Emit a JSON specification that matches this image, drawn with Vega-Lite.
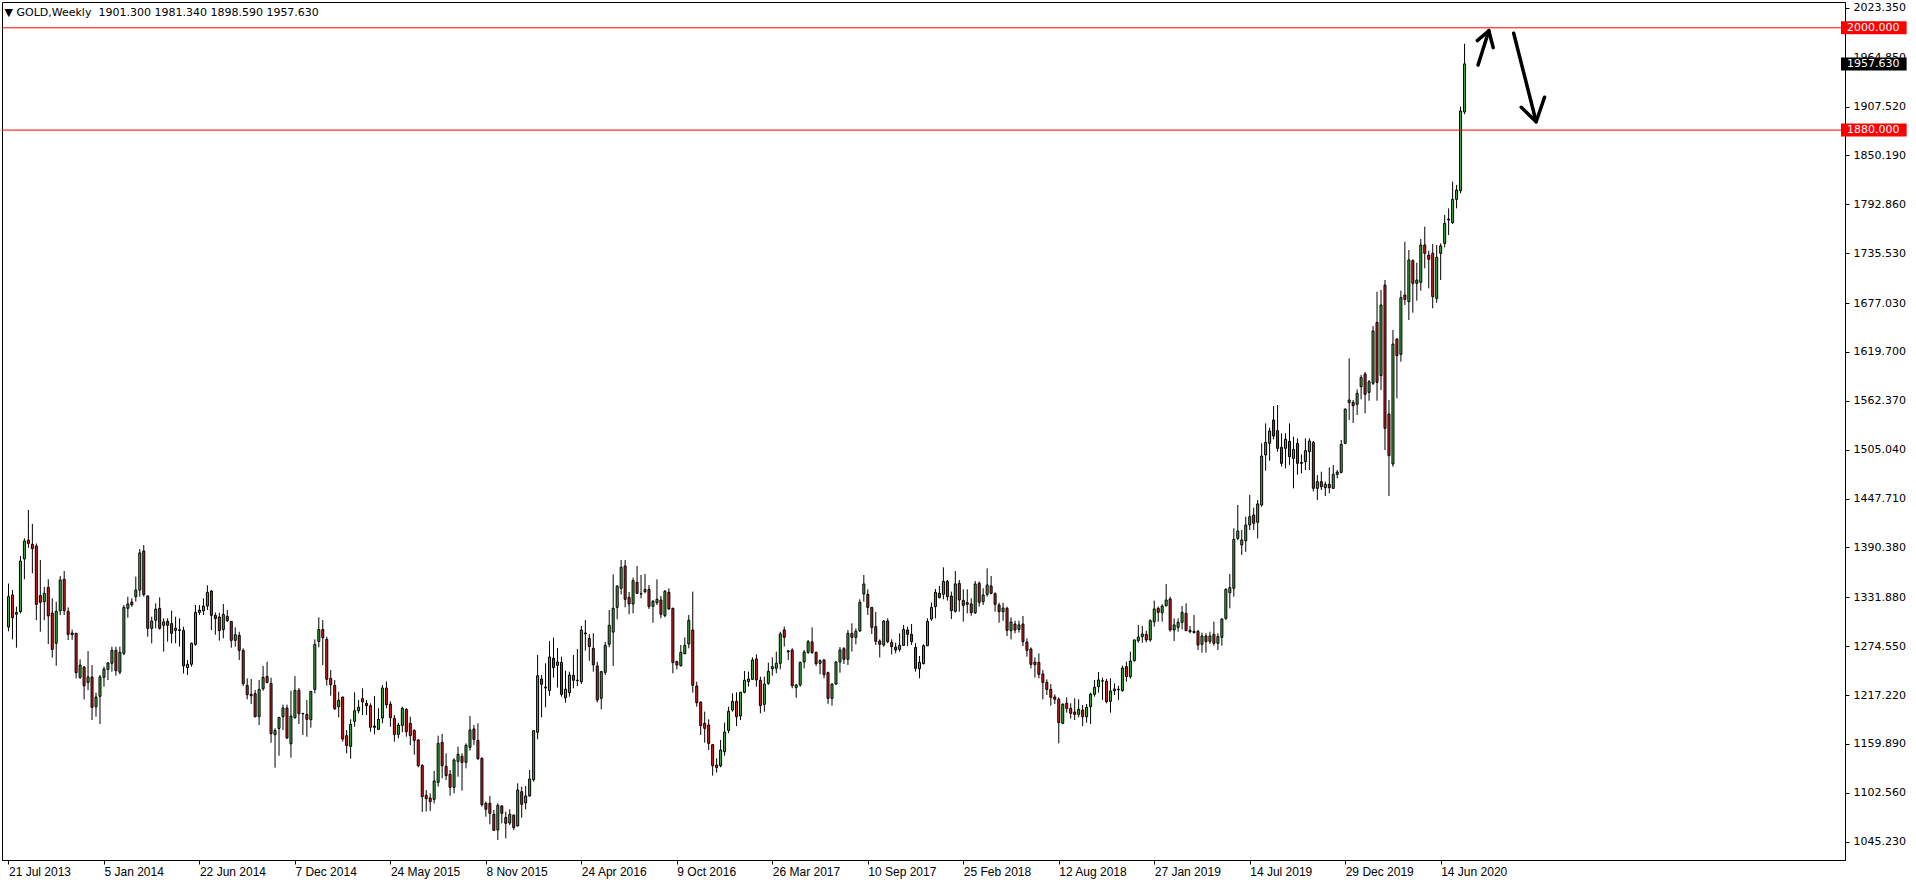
{
"$schema":"https://vega.github.io/schema/vega-lite/v6.json",
"width":1843,"height":858,
"autosize":{"type":"none"},
"padding":{"left":2,"top":2,"right":71,"bottom":24},
"background":"white",
"config":{"view":{"stroke":"black","strokeWidth":1},"font":"DejaVu Sans"},
"title":{"text":"▼ GOLD,Weekly\u00a0\u00a01901.300 1981.340 1898.590 1957.630","anchor":"start","offset":-16,"fontSize":11,"fontWeight":"normal","font":"DejaVu Sans","color":"black","dx":3},
"datasets":{
"candles":[
{"d":"2013-07-21","o":1297,"h":1348,"l":1292,"c":1332.6},
{"d":"2013-07-28","o":1334.6,"h":1340.4,"l":1282.5,"c":1307.9},
{"d":"2013-08-04","o":1312,"h":1320.9,"l":1272.7,"c":1314},
{"d":"2013-08-11","o":1315,"h":1380.3,"l":1313,"c":1374.4},
{"d":"2013-08-18","o":1376.8,"h":1401,"l":1353,"c":1397.9},
{"d":"2013-08-25","o":1399,"h":1434.3,"l":1390,"c":1395},
{"d":"2013-09-01","o":1394,"h":1418,"l":1360,"c":1389},
{"d":"2013-09-08","o":1392,"h":1395,"l":1305,"c":1323.6},
{"d":"2013-09-15","o":1334,"h":1375.6,"l":1291.5,"c":1326},
{"d":"2013-09-22","o":1326.7,"h":1344,"l":1305,"c":1336.5},
{"d":"2013-09-29","o":1343.5,"h":1353,"l":1277,"c":1310},
{"d":"2013-10-06","o":1313.4,"h":1330.6,"l":1261,"c":1270.8},
{"d":"2013-10-13","o":1277.9,"h":1326.7,"l":1251.6,"c":1315.4},
{"d":"2013-10-20","o":1316,"h":1356.8,"l":1311,"c":1352.2},
{"d":"2013-10-27","o":1353,"h":1362.7,"l":1311,"c":1316.2},
{"d":"2013-11-03","o":1315.4,"h":1320,"l":1281.7,"c":1288.4},
{"d":"2013-11-10","o":1290,"h":1294,"l":1282,"c":1288},
{"d":"2013-11-17","o":1289.6,"h":1290,"l":1236.8,"c":1243.4},
{"d":"2013-11-24","o":1238,"h":1259,"l":1236,"c":1252.4},
{"d":"2013-12-01","o":1250,"h":1251,"l":1212,"c":1228},
{"d":"2013-12-08","o":1232,"h":1268.8,"l":1223,"c":1238.4},
{"d":"2013-12-15","o":1238.4,"h":1252.4,"l":1187.9,"c":1202.8},
{"d":"2013-12-22","o":1203.5,"h":1220,"l":1191.8,"c":1214.9},
{"d":"2013-12-29","o":1215.7,"h":1240.7,"l":1183.2,"c":1238.4},
{"d":"2014-01-05","o":1238,"h":1250.5,"l":1227,"c":1247.7},
{"d":"2014-01-12","o":1247.3,"h":1256,"l":1234.8,"c":1254.8},
{"d":"2014-01-19","o":1254.4,"h":1273.9,"l":1244.6,"c":1269.6},
{"d":"2014-01-26","o":1269.6,"h":1273.9,"l":1239.9,"c":1245.8},
{"d":"2014-02-02","o":1244,"h":1273.9,"l":1241.5,"c":1267.3},
{"d":"2014-02-09","o":1266,"h":1322.8,"l":1264,"c":1320},
{"d":"2014-02-16","o":1318.9,"h":1332.6,"l":1307.9,"c":1324},
{"d":"2014-02-23","o":1326.3,"h":1330.6,"l":1320.9,"c":1323},
{"d":"2014-03-02","o":1332.6,"h":1356.1,"l":1326.7,"c":1340.4},
{"d":"2014-03-09","o":1340.4,"h":1388.5,"l":1332.6,"c":1384},
{"d":"2014-03-16","o":1386.2,"h":1393.2,"l":1332.6,"c":1335},
{"d":"2014-03-23","o":1333.4,"h":1334,"l":1285.7,"c":1295.4},
{"d":"2014-03-30","o":1295.4,"h":1309.1,"l":1277.8,"c":1304},
{"d":"2014-04-06","o":1305,"h":1324.8,"l":1295.4,"c":1318},
{"d":"2014-04-13","o":1318.9,"h":1331.8,"l":1294,"c":1295.4},
{"d":"2014-04-20","o":1299,"h":1307.2,"l":1268.1,"c":1303},
{"d":"2014-04-27","o":1303.6,"h":1307.2,"l":1279.8,"c":1299},
{"d":"2014-05-04","o":1301,"h":1316.2,"l":1277.9,"c":1289.6},
{"d":"2014-05-11","o":1293,"h":1309.1,"l":1277.9,"c":1295.5},
{"d":"2014-05-18","o":1293,"h":1307.2,"l":1274,"c":1293.8},
{"d":"2014-05-25","o":1293,"h":1297.4,"l":1242.6,"c":1251.3},
{"d":"2014-06-01","o":1249.4,"h":1258.3,"l":1240.7,"c":1253.3},
{"d":"2014-06-08","o":1253.3,"h":1278.6,"l":1250.5,"c":1277.9},
{"d":"2014-06-15","o":1276.7,"h":1322.8,"l":1275,"c":1314.2},
{"d":"2014-06-22","o":1314.2,"h":1322.8,"l":1311.1,"c":1316.9},
{"d":"2014-06-29","o":1316,"h":1330.6,"l":1311.1,"c":1321.6},
{"d":"2014-07-06","o":1321.6,"h":1345.9,"l":1316.9,"c":1337.7},
{"d":"2014-07-13","o":1339.2,"h":1340.4,"l":1293.5,"c":1310.7},
{"d":"2014-07-20","o":1310.7,"h":1314,"l":1288,"c":1306.8},
{"d":"2014-07-27","o":1308.7,"h":1313.8,"l":1281,"c":1292.7},
{"d":"2014-08-03","o":1293.9,"h":1324,"l":1283.7,"c":1311.8},
{"d":"2014-08-10","o":1309.5,"h":1316.9,"l":1303,"c":1304.4},
{"d":"2014-08-17","o":1303.6,"h":1304,"l":1272.7,"c":1281.3},
{"d":"2014-08-24","o":1281.3,"h":1296.6,"l":1273.9,"c":1288},
{"d":"2014-08-31","o":1287.2,"h":1291.5,"l":1258.3,"c":1269.6},
{"d":"2014-09-07","o":1269.6,"h":1272,"l":1227.8,"c":1230.5},
{"d":"2014-09-14","o":1228.5,"h":1236.7,"l":1212.1,"c":1217.6},
{"d":"2014-09-21","o":1218,"h":1236,"l":1206.6,"c":1216.4},
{"d":"2014-09-28","o":1218.8,"h":1223.1,"l":1191,"c":1191.8},
{"d":"2014-10-05","o":1191.8,"h":1234.8,"l":1182,"c":1223.8},
{"d":"2014-10-12","o":1224.6,"h":1251.3,"l":1222.3,"c":1237.9},
{"d":"2014-10-19","o":1239.1,"h":1256.3,"l":1230.9,"c":1232},
{"d":"2014-10-26","o":1230.9,"h":1237.6,"l":1161.3,"c":1171.8},
{"d":"2014-11-02","o":1170.7,"h":1178.1,"l":1132,"c":1175.7},
{"d":"2014-11-09","o":1178,"h":1191.5,"l":1146,"c":1191},
{"d":"2014-11-16","o":1191.8,"h":1205.9,"l":1176.1,"c":1202},
{"d":"2014-11-23","o":1202,"h":1205.9,"l":1165.6,"c":1166.8},
{"d":"2014-11-30","o":1160,"h":1222.3,"l":1143.7,"c":1192.6},
{"d":"2014-12-07","o":1190.6,"h":1239.5,"l":1189.4,"c":1222.7},
{"d":"2014-12-14","o":1222.7,"h":1225.4,"l":1183.2,"c":1195.3},
{"d":"2014-12-21","o":1195.7,"h":1196,"l":1170.3,"c":1195.2},
{"d":"2014-12-28","o":1194.5,"h":1211.3,"l":1168.3,"c":1188.7},
{"d":"2015-01-04","o":1188.3,"h":1221.9,"l":1178.9,"c":1221.5},
{"d":"2015-01-11","o":1223.8,"h":1282.5,"l":1219.2,"c":1276.6},
{"d":"2015-01-18","o":1280,"h":1308.3,"l":1273.2,"c":1294},
{"d":"2015-01-25","o":1294,"h":1305.2,"l":1252.4,"c":1284.5},
{"d":"2015-02-01","o":1282.5,"h":1285.7,"l":1228.2,"c":1235.6},
{"d":"2015-02-08","o":1236.7,"h":1246.5,"l":1216.4,"c":1229.3},
{"d":"2015-02-15","o":1228.5,"h":1234.8,"l":1199.6,"c":1201.2},
{"d":"2015-02-22","o":1203.5,"h":1221.1,"l":1191,"c":1211},
{"d":"2015-03-01","o":1214.9,"h":1215.3,"l":1162.5,"c":1165.6},
{"d":"2015-03-08","o":1169.5,"h":1176.1,"l":1148.8,"c":1158},
{"d":"2015-03-15","o":1157,"h":1188.7,"l":1142.5,"c":1182.8},
{"d":"2015-03-22","o":1186.3,"h":1220.4,"l":1180,"c":1198.8},
{"d":"2015-03-29","o":1198.8,"h":1211.3,"l":1195.7,"c":1203},
{"d":"2015-04-05","o":1213,"h":1225,"l":1193.7,"c":1209},
{"d":"2015-04-12","o":1207.4,"h":1211.3,"l":1193.7,"c":1204.7},
{"d":"2015-04-19","o":1204.7,"h":1207.4,"l":1174.2,"c":1179.3},
{"d":"2015-04-26","o":1180.8,"h":1216,"l":1171,"c":1179.3},
{"d":"2015-05-03","o":1176.9,"h":1201.6,"l":1176.1,"c":1188.7},
{"d":"2015-05-10","o":1190.2,"h":1229,"l":1184,"c":1225.4},
{"d":"2015-05-17","o":1225.4,"h":1233.2,"l":1201.6,"c":1205.9},
{"d":"2015-05-24","o":1206.6,"h":1209.8,"l":1180,"c":1190.6},
{"d":"2015-05-31","o":1189.8,"h":1193.7,"l":1162.5,"c":1171},
{"d":"2015-06-07","o":1171,"h":1184.7,"l":1166.4,"c":1182},
{"d":"2015-06-14","o":1181.6,"h":1203.5,"l":1173.4,"c":1201.6},
{"d":"2015-06-21","o":1200.4,"h":1201.6,"l":1168.3,"c":1174.2},
{"d":"2015-06-28","o":1184,"h":1191.8,"l":1158.5,"c":1169.5},
{"d":"2015-07-05","o":1175.7,"h":1177,"l":1147.2,"c":1164},
{"d":"2015-07-12","o":1164.4,"h":1165.6,"l":1132.4,"c":1134.3},
{"d":"2015-07-19","o":1134.7,"h":1136,"l":1080,"c":1098},
{"d":"2015-07-26","o":1099.5,"h":1105.8,"l":1080.4,"c":1095.6},
{"d":"2015-08-02","o":1096.4,"h":1101.9,"l":1081.1,"c":1092.1},
{"d":"2015-08-09","o":1094.8,"h":1128.1,"l":1090,"c":1116.4},
{"d":"2015-08-16","o":1114.8,"h":1169.5,"l":1109.7,"c":1160.5},
{"d":"2015-08-23","o":1161.7,"h":1171.5,"l":1119.5,"c":1134.3},
{"d":"2015-08-30","o":1133.6,"h":1148.8,"l":1117.5,"c":1122.6},
{"d":"2015-09-06","o":1124.2,"h":1129.3,"l":1099.1,"c":1108.9},
{"d":"2015-09-13","o":1108.9,"h":1143,"l":1101.9,"c":1141},
{"d":"2015-09-20","o":1139.4,"h":1156.6,"l":1121.4,"c":1147.6},
{"d":"2015-09-27","o":1145.3,"h":1148.8,"l":1105,"c":1138.2},
{"d":"2015-10-04","o":1138.2,"h":1160.5,"l":1131.2,"c":1158.2},
{"d":"2015-10-11","o":1155.8,"h":1192.6,"l":1152,"c":1176.2},
{"d":"2015-10-18","o":1177.4,"h":1182,"l":1158.6,"c":1165.2},
{"d":"2015-10-25","o":1164,"h":1184,"l":1141,"c":1142.6},
{"d":"2015-11-01","o":1143,"h":1144.1,"l":1086.2,"c":1088.6},
{"d":"2015-11-08","o":1090.2,"h":1092.1,"l":1074.5,"c":1083.1},
{"d":"2015-11-15","o":1090.2,"h":1098.8,"l":1065.5,"c":1078.4},
{"d":"2015-11-22","o":1077.2,"h":1082.3,"l":1058,"c":1058.5},
{"d":"2015-11-29","o":1058.9,"h":1090.2,"l":1047.1,"c":1087.8},
{"d":"2015-12-06","o":1087,"h":1088.2,"l":1066.7,"c":1078.4},
{"d":"2015-12-13","o":1073.7,"h":1080.4,"l":1049,"c":1066.7},
{"d":"2015-12-20","o":1067,"h":1083.1,"l":1064.7,"c":1077.2},
{"d":"2015-12-27","o":1076.4,"h":1076.8,"l":1058.9,"c":1061.6},
{"d":"2016-01-03","o":1063.6,"h":1113.6,"l":1062.8,"c":1105.8},
{"d":"2016-01-10","o":1103.8,"h":1109.7,"l":1073.3,"c":1089},
{"d":"2016-01-17","o":1090.6,"h":1110.5,"l":1083,"c":1098.8},
{"d":"2016-01-24","o":1098.8,"h":1129.3,"l":1098,"c":1118.7},
{"d":"2016-01-31","o":1117.9,"h":1176.2,"l":1115.6,"c":1175.4},
{"d":"2016-02-07","o":1173.5,"h":1264.2,"l":1165.2,"c":1239.9},
{"d":"2016-02-14","o":1236,"h":1240.7,"l":1191,"c":1229.8},
{"d":"2016-02-21","o":1225.5,"h":1254.4,"l":1202.8,"c":1226.5},
{"d":"2016-02-28","o":1222.4,"h":1280.6,"l":1216.4,"c":1261.8},
{"d":"2016-03-06","o":1260.3,"h":1284.5,"l":1237.6,"c":1249.3},
{"d":"2016-03-13","o":1252,"h":1272.4,"l":1225.9,"c":1256},
{"d":"2016-03-20","o":1255.6,"h":1262.2,"l":1215.3,"c":1218},
{"d":"2016-03-27","o":1214,"h":1245.8,"l":1208.2,"c":1224},
{"d":"2016-04-03","o":1220,"h":1244.6,"l":1215.3,"c":1240.7},
{"d":"2016-04-10","o":1240.3,"h":1264.2,"l":1225.1,"c":1234.5},
{"d":"2016-04-17","o":1234.5,"h":1271.2,"l":1227.8,"c":1234},
{"d":"2016-04-24","o":1232.9,"h":1298.2,"l":1230.1,"c":1293.5},
{"d":"2016-05-01","o":1289,"h":1305.2,"l":1269.3,"c":1290},
{"d":"2016-05-08","o":1283.7,"h":1288.8,"l":1257.5,"c":1274},
{"d":"2016-05-15","o":1272,"h":1289.6,"l":1244.6,"c":1252.5},
{"d":"2016-05-22","o":1251.3,"h":1256.3,"l":1208.6,"c":1211.4},
{"d":"2016-05-29","o":1213.3,"h":1245.5,"l":1200.4,"c":1244.6},
{"d":"2016-06-05","o":1243.8,"h":1279.4,"l":1240.7,"c":1275.5},
{"d":"2016-06-12","o":1276.7,"h":1317,"l":1273.2,"c":1299},
{"d":"2016-06-19","o":1291,"h":1358.8,"l":1251.3,"c":1318.9},
{"d":"2016-06-26","o":1320,"h":1346.3,"l":1306,"c":1344.8},
{"d":"2016-07-03","o":1342.4,"h":1375.6,"l":1335.3,"c":1367},
{"d":"2016-07-10","o":1368.6,"h":1375.6,"l":1320.1,"c":1329.5},
{"d":"2016-07-17","o":1331.8,"h":1338.1,"l":1311.9,"c":1324},
{"d":"2016-07-24","o":1324,"h":1354.9,"l":1313.1,"c":1351.4},
{"d":"2016-07-31","o":1349.4,"h":1368.6,"l":1335.7,"c":1336.5},
{"d":"2016-08-07","o":1336.2,"h":1358,"l":1330.7,"c":1335.8},
{"d":"2016-08-14","o":1338.5,"h":1359.2,"l":1336.5,"c":1341},
{"d":"2016-08-21","o":1341.2,"h":1346.3,"l":1318.2,"c":1320.9},
{"d":"2016-08-28","o":1321.3,"h":1328.7,"l":1302.1,"c":1327.2},
{"d":"2016-09-04","o":1325.5,"h":1352.9,"l":1322.8,"c":1329.5},
{"d":"2016-09-11","o":1328.7,"h":1333.4,"l":1307.2,"c":1311.9},
{"d":"2016-09-18","o":1310.3,"h":1340.4,"l":1308.4,"c":1338.9},
{"d":"2016-09-25","o":1337.7,"h":1342.4,"l":1317,"c":1318.2},
{"d":"2016-10-02","o":1318.9,"h":1319.7,"l":1242.7,"c":1255.2},
{"d":"2016-10-09","o":1256.4,"h":1257.5,"l":1247.4,"c":1252.5},
{"d":"2016-10-16","o":1251.7,"h":1275.9,"l":1250.5,"c":1267.3},
{"d":"2016-10-23","o":1265.6,"h":1284.9,"l":1265.4,"c":1275.5},
{"d":"2016-10-30","o":1277.1,"h":1311.1,"l":1272,"c":1304.8},
{"d":"2016-11-06","o":1293.5,"h":1338.5,"l":1220,"c":1228.6},
{"d":"2016-11-13","o":1227.8,"h":1232.9,"l":1203.5,"c":1208.2},
{"d":"2016-11-20","o":1209,"h":1209.5,"l":1170.3,"c":1181.3},
{"d":"2016-11-27","o":1184,"h":1197.7,"l":1161.3,"c":1178.1},
{"d":"2016-12-04","o":1182,"h":1188.7,"l":1152.7,"c":1160.5},
{"d":"2016-12-11","o":1159,"h":1159.8,"l":1122.6,"c":1134.3},
{"d":"2016-12-18","o":1135,"h":1142.9,"l":1126.1,"c":1132},
{"d":"2016-12-25","o":1134.3,"h":1164.4,"l":1132.4,"c":1152.7},
{"d":"2017-01-01","o":1150.8,"h":1184.8,"l":1146,"c":1173.8},
{"d":"2017-01-08","o":1175.7,"h":1203.5,"l":1172.3,"c":1198.1},
{"d":"2017-01-15","o":1199.6,"h":1219.2,"l":1197.7,"c":1209.8},
{"d":"2017-01-22","o":1209.8,"h":1220.4,"l":1180.8,"c":1191.8},
{"d":"2017-01-29","o":1192.6,"h":1220.8,"l":1187.9,"c":1220.4},
{"d":"2017-02-05","o":1220.4,"h":1245.4,"l":1219.2,"c":1234.5},
{"d":"2017-02-12","o":1232.9,"h":1244.6,"l":1227,"c":1236},
{"d":"2017-02-19","o":1235.6,"h":1261.4,"l":1234.9,"c":1258.3},
{"d":"2017-02-26","o":1259.5,"h":1265,"l":1227,"c":1234.9},
{"d":"2017-03-05","o":1234.5,"h":1238.8,"l":1195.7,"c":1204.7},
{"d":"2017-03-12","o":1206.2,"h":1238.8,"l":1197.7,"c":1230.1},
{"d":"2017-03-19","o":1230.9,"h":1255.2,"l":1229,"c":1245},
{"d":"2017-03-26","o":1248,"h":1261.4,"l":1239.9,"c":1250.5},
{"d":"2017-04-02","o":1248.6,"h":1268.1,"l":1242.7,"c":1254.4},
{"d":"2017-04-09","o":1254.4,"h":1291.5,"l":1247.4,"c":1288.8},
{"d":"2017-04-16","o":1293.5,"h":1297.4,"l":1274,"c":1284.9},
{"d":"2017-04-23","o":1269,"h":1270,"l":1258.3,"c":1268},
{"d":"2017-04-30","o":1270,"h":1272,"l":1225.1,"c":1228.2},
{"d":"2017-05-07","o":1225.9,"h":1230.1,"l":1214.1,"c":1229},
{"d":"2017-05-14","o":1229,"h":1256.3,"l":1227,"c":1255.6},
{"d":"2017-05-21","o":1256,"h":1270,"l":1248.5,"c":1267.7},
{"d":"2017-05-28","o":1267.3,"h":1281.8,"l":1265.4,"c":1279.8},
{"d":"2017-06-04","o":1279.5,"h":1296.6,"l":1265.4,"c":1267},
{"d":"2017-06-11","o":1267.3,"h":1268.1,"l":1251.3,"c":1254},
{"d":"2017-06-18","o":1254.4,"h":1259.1,"l":1241.5,"c":1257.5},
{"d":"2017-06-25","o":1258.3,"h":1259.5,"l":1236.8,"c":1241.1},
{"d":"2017-07-02","o":1243.5,"h":1244.6,"l":1206.7,"c":1213.3},
{"d":"2017-07-09","o":1213.3,"h":1230.9,"l":1204.7,"c":1230.1},
{"d":"2017-07-16","o":1230.1,"h":1257.1,"l":1229,"c":1256},
{"d":"2017-07-23","o":1256,"h":1273.5,"l":1243.4,"c":1270},
{"d":"2017-07-30","o":1271.6,"h":1273.5,"l":1253.6,"c":1259.1},
{"d":"2017-08-06","o":1259.1,"h":1293.5,"l":1252.4,"c":1289.6},
{"d":"2017-08-13","o":1289.6,"h":1301.3,"l":1268.1,"c":1284.9},
{"d":"2017-08-20","o":1284.9,"h":1295.4,"l":1276.7,"c":1292},
{"d":"2017-08-27","o":1292.3,"h":1329.5,"l":1291.5,"c":1326},
{"d":"2017-09-03","o":1335.7,"h":1358,"l":1326.7,"c":1347.5},
{"d":"2017-09-10","o":1335.3,"h":1341.2,"l":1311.1,"c":1320},
{"d":"2017-09-17","o":1320,"h":1320.5,"l":1288.8,"c":1296.6},
{"d":"2017-09-24","o":1297.4,"h":1314.6,"l":1275.9,"c":1280.2},
{"d":"2017-10-01","o":1280.6,"h":1282.5,"l":1261.4,"c":1276.7},
{"d":"2017-10-08","o":1275.9,"h":1305.2,"l":1273.9,"c":1304},
{"d":"2017-10-15","o":1304,"h":1307.2,"l":1277.9,"c":1279.8},
{"d":"2017-10-22","o":1279,"h":1282.5,"l":1264.9,"c":1274},
{"d":"2017-10-29","o":1273.5,"h":1278.6,"l":1266.1,"c":1270},
{"d":"2017-11-05","o":1270.8,"h":1289.6,"l":1268.1,"c":1275.5},
{"d":"2017-11-12","o":1275.5,"h":1299.4,"l":1274.7,"c":1294.2},
{"d":"2017-11-19","o":1293.5,"h":1297.4,"l":1274.7,"c":1288.4},
{"d":"2017-11-26","o":1288.4,"h":1300.5,"l":1275.9,"c":1279.8},
{"d":"2017-12-03","o":1273.1,"h":1277.9,"l":1244.6,"c":1248.5},
{"d":"2017-12-10","o":1248.1,"h":1263,"l":1236.8,"c":1255.5},
{"d":"2017-12-17","o":1254,"h":1276.7,"l":1253.2,"c":1275.1},
{"d":"2017-12-24","o":1275.1,"h":1307.2,"l":1274.5,"c":1303.6},
{"d":"2017-12-31","o":1306.4,"h":1325.6,"l":1304.4,"c":1320.1},
{"d":"2018-01-07","o":1320.9,"h":1341.6,"l":1307.2,"c":1337.7},
{"d":"2018-01-14","o":1336.5,"h":1345.1,"l":1330.6,"c":1331.5},
{"d":"2018-01-21","o":1335.3,"h":1367,"l":1329.5,"c":1350.6},
{"d":"2018-01-28","o":1350.6,"h":1352.2,"l":1327.9,"c":1332.6},
{"d":"2018-02-04","o":1333.4,"h":1338.5,"l":1306.4,"c":1316.2},
{"d":"2018-02-11","o":1315.4,"h":1362.7,"l":1313.8,"c":1347.5},
{"d":"2018-02-18","o":1348.2,"h":1352.2,"l":1315,"c":1328.7},
{"d":"2018-02-25","o":1328.3,"h":1341.2,"l":1303.3,"c":1322.4},
{"d":"2018-03-04","o":1325.5,"h":1341.2,"l":1313,"c":1323.6},
{"d":"2018-03-11","o":1324,"h":1330.6,"l":1310.3,"c":1313.8},
{"d":"2018-03-18","o":1313.8,"h":1351,"l":1312.2,"c":1347.5},
{"d":"2018-03-25","o":1348.2,"h":1350.6,"l":1320.9,"c":1326},
{"d":"2018-04-01","o":1326.7,"h":1342.4,"l":1322.8,"c":1334.6},
{"d":"2018-04-08","o":1335.3,"h":1365.8,"l":1332.6,"c":1346.3},
{"d":"2018-04-15","o":1345.1,"h":1356.8,"l":1335.3,"c":1336.5},
{"d":"2018-04-22","o":1336.1,"h":1337.7,"l":1315,"c":1323.6},
{"d":"2018-04-29","o":1322.8,"h":1325.5,"l":1302.1,"c":1315},
{"d":"2018-05-06","o":1315,"h":1325.5,"l":1304.4,"c":1319.3},
{"d":"2018-05-13","o":1318.9,"h":1320.9,"l":1286.4,"c":1293.1},
{"d":"2018-05-20","o":1292.7,"h":1308.3,"l":1282.5,"c":1302.9},
{"d":"2018-05-27","o":1300.5,"h":1304.4,"l":1289.6,"c":1293.5},
{"d":"2018-06-03","o":1294.2,"h":1304.4,"l":1290.4,"c":1299.4},
{"d":"2018-06-10","o":1300.5,"h":1309.9,"l":1274.7,"c":1279.8},
{"d":"2018-06-17","o":1279.4,"h":1283.7,"l":1262.2,"c":1269.6},
{"d":"2018-06-24","o":1271.2,"h":1273.1,"l":1248.5,"c":1253.2},
{"d":"2018-07-01","o":1255.9,"h":1261.4,"l":1237.6,"c":1252.8},
{"d":"2018-07-08","o":1255.5,"h":1266.1,"l":1236.8,"c":1241.5},
{"d":"2018-07-15","o":1241.9,"h":1246.5,"l":1212.1,"c":1232},
{"d":"2018-07-22","o":1232,"h":1235.6,"l":1217.2,"c":1223.8},
{"d":"2018-07-29","o":1223.8,"h":1230.1,"l":1204.7,"c":1214.5},
{"d":"2018-08-05","o":1214.9,"h":1217.9,"l":1206.7,"c":1212.2},
{"d":"2018-08-12","o":1212.2,"h":1214.5,"l":1160.5,"c":1184.8},
{"d":"2018-08-19","o":1184,"h":1207.5,"l":1183,"c":1206.3},
{"d":"2018-08-26","o":1207.5,"h":1214.5,"l":1196.5,"c":1201.6},
{"d":"2018-09-02","o":1201.6,"h":1207.5,"l":1189.5,"c":1195.7},
{"d":"2018-09-09","o":1197.3,"h":1213.3,"l":1187.9,"c":1194.5},
{"d":"2018-09-16","o":1194.5,"h":1212.2,"l":1191,"c":1200.4},
{"d":"2018-09-23","o":1199.6,"h":1205.5,"l":1180.8,"c":1191.8},
{"d":"2018-09-30","o":1191.8,"h":1206.7,"l":1184.8,"c":1202.8},
{"d":"2018-10-07","o":1203.5,"h":1219.9,"l":1183.2,"c":1218.4},
{"d":"2018-10-14","o":1218,"h":1234.9,"l":1215.3,"c":1226.3},
{"d":"2018-10-21","o":1227,"h":1244.2,"l":1220,"c":1234.9},
{"d":"2018-10-28","o":1234,"h":1237.6,"l":1211.4,"c":1233.3},
{"d":"2018-11-04","o":1233.3,"h":1236,"l":1207.5,"c":1209.4},
{"d":"2018-11-11","o":1209.8,"h":1236.8,"l":1196.5,"c":1221.9},
{"d":"2018-11-18","o":1222.3,"h":1230.9,"l":1217.2,"c":1224.3},
{"d":"2018-11-25","o":1224,"h":1228.2,"l":1211.4,"c":1223.5},
{"d":"2018-12-02","o":1222.3,"h":1251.7,"l":1221.2,"c":1248.9},
{"d":"2018-12-09","o":1250.5,"h":1256.3,"l":1232.9,"c":1238.8},
{"d":"2018-12-16","o":1238.8,"h":1268.1,"l":1236.4,"c":1257.1},
{"d":"2018-12-23","o":1257.5,"h":1282.5,"l":1256.3,"c":1281.8},
{"d":"2018-12-30","o":1281,"h":1299.4,"l":1278.6,"c":1285.3},
{"d":"2019-01-06","o":1285.7,"h":1298.2,"l":1278.6,"c":1288.8},
{"d":"2019-01-13","o":1288.4,"h":1292.7,"l":1279,"c":1281.8},
{"d":"2019-01-20","o":1281.8,"h":1306,"l":1279.8,"c":1304.4},
{"d":"2019-01-27","o":1303.2,"h":1327.9,"l":1297.4,"c":1318.2},
{"d":"2019-02-03","o":1318.9,"h":1320.9,"l":1303.3,"c":1314.2},
{"d":"2019-02-10","o":1313.8,"h":1323.6,"l":1303.3,"c":1321.6},
{"d":"2019-02-17","o":1322,"h":1347.5,"l":1320.9,"c":1328.7},
{"d":"2019-02-24","o":1329.9,"h":1332.6,"l":1291.5,"c":1293.5},
{"d":"2019-03-03","o":1293.5,"h":1307.2,"l":1280.6,"c":1299.4},
{"d":"2019-03-10","o":1296.6,"h":1307.2,"l":1291.5,"c":1302.5},
{"d":"2019-03-17","o":1302.5,"h":1321.6,"l":1294.3,"c":1314.2},
{"d":"2019-03-24","o":1313,"h":1324.8,"l":1292.3,"c":1292.7},
{"d":"2019-03-31","o":1293,"h":1298.2,"l":1289.6,"c":1291.5},
{"d":"2019-04-07","o":1291.9,"h":1311.1,"l":1289.5,"c":1290.4},
{"d":"2019-04-14","o":1291.9,"h":1293.5,"l":1270,"c":1275.9},
{"d":"2019-04-21","o":1276.7,"h":1290.4,"l":1266.9,"c":1286.5},
{"d":"2019-04-28","o":1286.5,"h":1289.6,"l":1266.9,"c":1279.8},
{"d":"2019-05-05","o":1280.2,"h":1291.5,"l":1277.1,"c":1286.5},
{"d":"2019-05-12","o":1288.4,"h":1303.3,"l":1275.1,"c":1277.9},
{"d":"2019-05-19","o":1277.9,"h":1289.6,"l":1270,"c":1285.7},
{"d":"2019-05-26","o":1284.9,"h":1307.2,"l":1275.1,"c":1306.4},
{"d":"2019-06-02","o":1307.2,"h":1342.4,"l":1305.2,"c":1341.2},
{"d":"2019-06-09","o":1337.3,"h":1359.2,"l":1318.9,"c":1343.2},
{"d":"2019-06-16","o":1342.4,"h":1412.8,"l":1332.6,"c":1399.9},
{"d":"2019-06-23","o":1401,"h":1440.2,"l":1399,"c":1409.6},
{"d":"2019-06-30","o":1393.3,"h":1410.8,"l":1381.5,"c":1399.1},
{"d":"2019-07-07","o":1398.3,"h":1426.5,"l":1385.2,"c":1416.7},
{"d":"2019-07-14","o":1416.7,"h":1452,"l":1410.8,"c":1426.5},
{"d":"2019-07-21","o":1428.4,"h":1437,"l":1410.8,"c":1418.7},
{"d":"2019-07-28","o":1419.8,"h":1446,"l":1400.9,"c":1441.4},
{"d":"2019-08-04","o":1440.1,"h":1512.5,"l":1438.2,"c":1497.6},
{"d":"2019-08-11","o":1498.8,"h":1535.9,"l":1480.4,"c":1513.6},
{"d":"2019-08-18","o":1512.5,"h":1530.9,"l":1492.1,"c":1527},
{"d":"2019-08-25","o":1539.9,"h":1556.3,"l":1517.2,"c":1521.1},
{"d":"2019-09-01","o":1527.3,"h":1557.4,"l":1502.6,"c":1506.6},
{"d":"2019-09-08","o":1507.8,"h":1524.2,"l":1485.3,"c":1489},
{"d":"2019-09-15","o":1506.6,"h":1524.2,"l":1483.1,"c":1517.2},
{"d":"2019-09-22","o":1514.8,"h":1535.9,"l":1487.1,"c":1496.8},
{"d":"2019-09-29","o":1494.9,"h":1520.3,"l":1459.7,"c":1505.4},
{"d":"2019-10-06","o":1512.5,"h":1518.3,"l":1475.7,"c":1489},
{"d":"2019-10-13","o":1489,"h":1499.5,"l":1477.2,"c":1490},
{"d":"2019-10-20","o":1491,"h":1518.3,"l":1481.2,"c":1503.9},
{"d":"2019-10-27","o":1502.7,"h":1518.3,"l":1481.2,"c":1515.2},
{"d":"2019-11-03","o":1513.6,"h":1515.2,"l":1456.1,"c":1459.7},
{"d":"2019-11-10","o":1459.7,"h":1475.3,"l":1446,"c":1467.5},
{"d":"2019-11-17","o":1467.5,"h":1479.2,"l":1457.7,"c":1461.6},
{"d":"2019-11-24","o":1460.4,"h":1467.6,"l":1450.7,"c":1464.4},
{"d":"2019-12-01","o":1464.4,"h":1484.3,"l":1453.8,"c":1460.4},
{"d":"2019-12-08","o":1459.7,"h":1487,"l":1459,"c":1476.1},
{"d":"2019-12-15","o":1476.1,"h":1481.2,"l":1471.4,"c":1478.8},
{"d":"2019-12-22","o":1478.4,"h":1516.4,"l":1477.2,"c":1511.3},
{"d":"2019-12-29","o":1512.5,"h":1553.3,"l":1511.5,"c":1552.7},
{"d":"2020-01-05","o":1560.2,"h":1612.2,"l":1539.8,"c":1563.3},
{"d":"2020-01-12","o":1560.6,"h":1563.3,"l":1536.3,"c":1556.7},
{"d":"2020-01-19","o":1558.2,"h":1575.8,"l":1545.7,"c":1571.2},
{"d":"2020-01-26","o":1579,"h":1592.7,"l":1564.1,"c":1589.6},
{"d":"2020-02-02","o":1593.8,"h":1596.1,"l":1547.7,"c":1570},
{"d":"2020-02-09","o":1572.3,"h":1586.7,"l":1562.5,"c":1584.8},
{"d":"2020-02-16","o":1582.9,"h":1650.1,"l":1580.9,"c":1644.3},
{"d":"2020-02-23","o":1654.4,"h":1690.4,"l":1562.5,"c":1584},
{"d":"2020-03-01","o":1591.9,"h":1692.4,"l":1575,"c":1674.8},
{"d":"2020-03-08","o":1698.2,"h":1704.1,"l":1504.6,"c":1530.1},
{"d":"2020-03-15","o":1546.9,"h":1563.3,"l":1450.7,"c":1498},
{"d":"2020-03-22","o":1488.2,"h":1645.4,"l":1485.1,"c":1629},
{"d":"2020-03-29","o":1634.9,"h":1635.7,"l":1565.2,"c":1615.3},
{"d":"2020-04-05","o":1616.9,"h":1691.6,"l":1608.3,"c":1683.4},
{"d":"2020-04-12","o":1686.5,"h":1749,"l":1674.8,"c":1681.4},
{"d":"2020-04-19","o":1678.7,"h":1739.3,"l":1657.2,"c":1727.6},
{"d":"2020-04-26","o":1726.8,"h":1728.3,"l":1665.8,"c":1700.2},
{"d":"2020-05-03","o":1700.2,"h":1724.4,"l":1679.9,"c":1704.1},
{"d":"2020-05-10","o":1701.4,"h":1752.2,"l":1691.6,"c":1745.2},
{"d":"2020-05-17","o":1745.2,"h":1766.7,"l":1717.8,"c":1735.4},
{"d":"2020-05-24","o":1733.4,"h":1738.5,"l":1694.3,"c":1728.4},
{"d":"2020-05-31","o":1735.4,"h":1746.4,"l":1670.9,"c":1684.6},
{"d":"2020-06-07","o":1682.6,"h":1745.2,"l":1677.5,"c":1730.7},
{"d":"2020-06-14","o":1735.4,"h":1747.1,"l":1704.1,"c":1744.1},
{"d":"2020-06-21","o":1747.1,"h":1780.4,"l":1742.4,"c":1770.6},
{"d":"2020-06-28","o":1774.5,"h":1788.2,"l":1756.9,"c":1775.5},
{"d":"2020-07-05","o":1771.4,"h":1819.5,"l":1769.8,"c":1798.7},
{"d":"2020-07-12","o":1798.7,"h":1815.6,"l":1788.2,"c":1809.7},
{"d":"2020-07-19","o":1808.9,"h":1907.5,"l":1805.8,"c":1902.4},
{"d":"2020-07-26","o":1901.3,"h":1981.34,"l":1898.59,"c":1957.63}
],
"levels":[{"p":2000,"kind":"level"},{"p":1880,"kind":"level"}],
"tags":[{"p":2000,"kind":"level"},{"p":1880,"kind":"level"},{"p":1957.63,"kind":"last"}],
"arrows":[
{"seg":"u1","k":0,"t":"2020-08-18T19:00:00Z","p":1956.3},
{"seg":"u1","k":1,"t":"2020-09-06T17:00:00Z","p":1996.6},
{"seg":"u2","k":0,"t":"2020-08-17T10:00:00Z","p":1984.9},
{"seg":"u2","k":1,"t":"2020-09-06T17:00:00Z","p":1996.6},
{"seg":"u2","k":2,"t":"2020-09-14T10:00:00Z","p":1976.7},
{"seg":"d1","k":0,"t":"2020-10-20T11:00:00Z","p":1993.6},
{"seg":"d1","k":1,"t":"2020-11-29T00:00:00Z","p":1889.8},
{"seg":"d2","k":0,"t":"2020-11-02T18:00:00Z","p":1906.7},
{"seg":"d2","k":1,"t":"2020-11-29T00:00:00Z","p":1889.8},
{"seg":"d2","k":2,"t":"2020-12-13T17:00:00Z","p":1918.5}
]
},
"encoding":{
 "x":{"type":"temporal","scale":{"type":"utc","domain":[1374138000000,1652799600000]},
      "axis":{"orient":"bottom","title":null,"grid":false,"format":"%-d %b %Y","labelAlign":"left","labelFlush":false,"labelOverlap":false,"labelFont":"Liberation Sans","labelFontSize":12,"labelColor":"black","labelPadding":2,"tickSize":4,"tickColor":"black","domainColor":"black",
      "values":[{"year":2013,"month":7,"date":21,"utc":true},{"year":2014,"month":1,"date":5,"utc":true},{"year":2014,"month":6,"date":22,"utc":true},{"year":2014,"month":12,"date":7,"utc":true},{"year":2015,"month":5,"date":24,"utc":true},{"year":2015,"month":11,"date":8,"utc":true},{"year":2016,"month":4,"date":24,"utc":true},{"year":2016,"month":10,"date":9,"utc":true},{"year":2017,"month":3,"date":26,"utc":true},{"year":2017,"month":9,"date":10,"utc":true},{"year":2018,"month":2,"date":25,"utc":true},{"year":2018,"month":8,"date":12,"utc":true},{"year":2019,"month":1,"date":27,"utc":true},{"year":2019,"month":7,"date":14,"utc":true},{"year":2019,"month":12,"date":29,"utc":true},{"year":2020,"month":6,"date":14,"utc":true}]}},
 "y":{"type":"quantitative","scale":{"domain":[1023.65,2030.27],"nice":false,"zero":false},
      "axis":{"orient":"right","title":null,"grid":false,"format":".3f","labelFont":"DejaVu Sans","labelFontSize":11,"labelColor":"black","labelPadding":4,"tickSize":4,"tickColor":"black","domainColor":"black","labelOverlap":false,"labelBound":false,"labelFlush":false,
      "values":[2023.35,1964.85,1907.52,1850.19,1792.86,1735.53,1677.03,1619.7,1562.37,1505.04,1447.71,1390.38,1331.88,1274.55,1217.22,1159.89,1102.56,1045.23]}}
},
"layer":[
{"data":{"name":"candles"},
 "mark":{"type":"rule","color":"black","strokeWidth":1},
 "encoding":{
  "x":{"field":"d","type":"temporal"},
  "y":{"field":"l","type":"quantitative"},
  "y2":{"field":"h"}
 }},
{"data":{"name":"candles"},
 "mark":{"type":"bar","width":2,"stroke":"black","strokeWidth":1},
 "encoding":{
  "x":{"field":"d","type":"temporal"},
  "y":{"field":"o","type":"quantitative"},
  "y2":{"field":"c"},
  "fill":{"condition":{"test":"datum.c >= datum.o","value":"#3cb43c"},"value":"#dc1e1e"}
 }},
{"data":{"name":"levels"},
 "mark":{"type":"rule","color":"#ff0000","strokeWidth":1},
 "encoding":{"x":null,"y":{"field":"p","type":"quantitative"}}},
{"data":{"name":"arrows"},
 "mark":{"type":"line","color":"black","strokeWidth":3.5,"strokeCap":"round","strokeJoin":"round"},
 "encoding":{
  "x":{"field":"t","type":"temporal"},
  "y":{"field":"p","type":"quantitative"},
  "detail":{"field":"seg"},
  "order":{"field":"k","type":"quantitative"}
 }},
{"data":{"name":"tags"},
 "mark":{"type":"rule","strokeWidth":13,"strokeCap":"butt"},
 "encoding":{
  "x":{"datum":1652950800000,"type":"temporal"},
  "x2":{"datum":1662930000000},
  "y":{"field":"p","type":"quantitative"},
  "color":{"condition":{"test":"datum.kind === 'last'","value":"#000000"},"value":"#ff0000"}
 }},
{"data":{"name":"tags"},
 "mark":{"type":"text","align":"left","baseline":"middle","color":"white","font":"DejaVu Sans","fontSize":11},
 "encoding":{
  "x":{"datum":1653858000000,"type":"temporal"},
  "y":{"field":"p","type":"quantitative"},
  "text":{"field":"p","type":"quantitative","format":".3f"}
 }}
]
}
